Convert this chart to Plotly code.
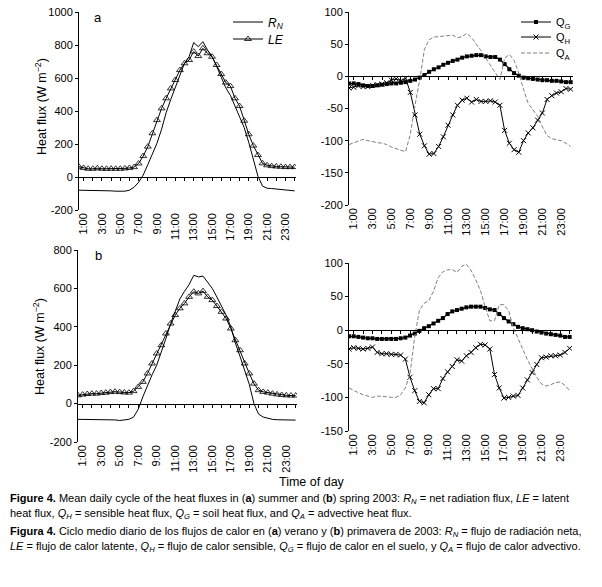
import plotly.graph_objects as go

# ---------------- data ----------------
HOURS = [h / 2 for h in range(1, 49)]  # 0:30 ... 24:00 (half-hourly)
TICK_HOURS = [1, 3, 5, 7, 9, 11, 13, 15, 17, 19, 21, 23]
TICK_LABELS = ["1:00", "3:00", "5:00", "7:00", "9:00", "11:00", "13:00",
               "15:00", "17:00", "19:00", "21:00", "23:00"]
MINOR_TICKS = list(range(1, 25))

# (a) summer
RN_A = [-80, -80, -80, -80, -80, -80, -81, -84, -86, -87, -86, -80,
        -62, -32, 12, 75, 140, 205, 290, 390, 470, 540, 615, 690,
        730, 815, 790, 820, 770, 730, 670, 610, 540, 495, 430, 360,
        300, 210, 110, 5, -55, -68, -70, -72, -75, -78, -82, -84]
LE_A = [62, 55, 50, 50, 53, 50, 50, 50, 50, 50, 52, 55,
        60, 82, 127, 184, 265, 345, 416, 477, 537, 588, 648, 689,
        709, 760, 733, 780, 750, 729, 679, 624, 572, 551, 477, 430,
        341, 259, 190, 133, 83, 71, 66, 64, 62, 60, 60, 60]
QG_A = [-11, -11, -12, -14, -15, -15, -14, -13, -12, -11, -11, -10,
        -9, -7, -5, -2, 2, 7, 11, 14, 18, 21, 24, 26,
        29, 31, 32, 33, 33, 31, 30, 30, 26, 19, 11, 5,
        1, -2, -3, -4, -5, -6, -6, -7, -7, -8, -9, -9]
QH_A = [-18, -17, -15, -16, -16, -14, -13, -12, -10, -6, -4, -7,
        -3, -25, -60, -90, -108, -121, -120, -109, -94, -76, -60, -45,
        -37, -34, -40, -36, -39, -39, -38, -40, -45, -84, -104, -114,
        -118, -100, -88, -80, -68, -57, -36, -30, -26, -24, -19, -20]
QA_A = [-106, -103, -100, -98, -100, -102, -103, -104, -106, -110, -113, -115,
        -117, -90, -45, -5, 42, 57, 61, 62, 62, 63, 64, 60,
        62, 67, 60, 50, 40, 28, 17, 8, -5, 28, 34, 25,
        5, -20, -42, -52, -62, -78, -92, -97, -98, -100, -104, -109]

# (b) spring
RN_B = [-82, -82, -82, -82, -82, -82, -82, -83, -85, -88, -86, -82,
        -70, -30, 35, 95, 150, 200, 265, 340, 417, 480, 545, 585,
        620, 668, 660, 664, 630, 600, 555, 505, 460, 400, 315, 245,
        175, 100, 0, -55, -70, -78, -82, -84, -85, -85, -86, -86]
LE_B = [43, 47, 50, 52, 52, 55, 57, 60, 62, 60, 58, 57,
        65, 87, 113, 157, 209, 261, 304, 365, 417, 461, 496, 522,
        556, 583, 574, 586, 556, 539, 508, 478, 443, 391, 330, 278,
        209, 157, 104, 70, 61, 57, 52, 48, 45, 43, 42, 42]
QG_B = [-9, -9, -10, -11, -12, -12, -13, -13, -13, -13, -13, -12,
        -11, -8, -5, -1, 3, 6, 10, 14, 18, 24, 28, 30,
        32, 34, 35, 35, 35, 33, 31, 30, 24, 18, 13, 9,
        5, 3, 1.5, 0, -2, -3.5, -5, -6, -7, -8, -10, -10]
QH_B = [-28, -26, -27, -28, -27, -25, -33, -35, -35, -36, -36, -37,
        -43, -70, -90, -106, -108, -96, -87, -87, -72, -62, -54, -44,
        -46, -38, -33, -26, -21, -22, -28, -66, -86, -101, -100, -98,
        -97, -86, -74, -63, -51, -41, -40, -38, -38, -37, -33, -27]
QA_B = [-86, -90, -93, -96, -98, -100, -98, -98, -99, -100, -100, -96,
        -86, -65, -10, 30, 40, 44, 58, 78, 87, 90, 90, 86,
        95, 98, 89, 75, 59, 35, 14, 14, 38, 38, 29, 4,
        -13, -28, -44, -58, -70, -80, -83, -81, -78, -77, -82, -90]

# ---------------- layout helpers ----------------
W, H = 602, 587
FONT = "Liberation Sans Narrow, Arial Narrow, Liberation Sans, Arial, sans-serif"


def fx(p):
    return p / W


def fy(p):
    return 1 - p / H


# pixel boxes: (left, right), (top, bottom), y range, y step, x range
PANELS = [
    dict(x=(79, 296), y=(12, 210), yr=(-200, 1000), dt=200, xr=(0.5, 24.15)),
    dict(x=(349, 573), y=(12, 205), yr=(-200, 100), dt=50, xr=(0.5, 24.25)),
    dict(x=(78, 297), y=(250, 442), yr=(-200, 800), dt=200, xr=(0.5, 24.15)),
    dict(x=(349, 572), y=(263, 431), yr=(-150, 100), dt=50, xr=(0.5, 24.25)),
]

fig = go.Figure()
layout = dict(
    template="none",
    width=W, height=H,
    margin=dict(l=0, r=0, t=0, b=0, pad=0),
    paper_bgcolor="white", plot_bgcolor="rgba(0,0,0,0)",
    font=dict(family=FONT, size=11, color="black"),
    showlegend=True,
)

for i, p in enumerate(PANELS, start=1):
    xd = [fx(p["x"][0]), fx(p["x"][1])]
    yd = [fy(p["y"][1]), fy(p["y"][0])]
    y0, y1 = p["yr"]
    vals = list(range(y0, y1 + 1, p["dt"]))
    sfx = "" if i == 1 else str(i)
    layout["xaxis" + sfx] = dict(
        domain=xd, range=list(p["xr"]), anchor="y" + sfx, automargin=False,
        tickvals=TICK_HOURS, ticktext=TICK_LABELS, tickangle=-90,
        showline=False, ticks="", showgrid=False, zeroline=False,
        tickfont=dict(size=11),
    )
    layout["yaxis" + sfx] = dict(
        domain=yd, range=[y0, y1], anchor="x" + sfx, automargin=False,
        tickvals=vals, ticktext=[str(v) for v in vals],
        showline=True, linecolor="black", linewidth=1,
        ticks="outside", ticklen=3, tickcolor="black", tickwidth=1,
        showgrid=False, zeroline=False, tickfont=dict(size=11),
    )
    # zero line with hourly tick marks
    zpos = yd[0] + (0 - y0) / (y1 - y0) * (yd[1] - yd[0])
    zname = str(i + 4)
    layout["xaxis" + zname] = dict(
        overlaying="x" + sfx, anchor="free", position=zpos, automargin=False,
        range=list(p["xr"]), showline=True, linecolor="black", linewidth=1,
        ticks="outside", ticklen=3, tickcolor="black", tickwidth=1,
        tickvals=MINOR_TICKS,
        showticklabels=False, showgrid=False, zeroline=False,
    )
    fig.add_trace(go.Scatter(x=[HOURS[0]], y=[None], xaxis="x" + zname,
                             yaxis="y" + sfx, showlegend=False,
                             hoverinfo="skip", mode="lines"))


def left_traces(rn, le, ax, show):
    fig.add_trace(go.Scatter(
        x=HOURS, y=rn, mode="lines", name="<i>R<sub>N</sub></i>",
        line=dict(color="black", width=1), xaxis="x" + ax, yaxis="y" + ax,
        showlegend=show, legend="legend"))
    fig.add_trace(go.Scatter(
        x=HOURS, y=le, mode="lines+markers", name="<i>LE</i>",
        line=dict(color="black", width=1),
        marker=dict(symbol="triangle-up-open", size=6, color="black",
                    line=dict(width=0.8, color="black")),
        xaxis="x" + ax, yaxis="y" + ax, showlegend=show, legend="legend2"))


def right_traces(qg, qh, qa, ax, show):
    fig.add_trace(go.Scatter(
        x=HOURS, y=qg, mode="lines+markers", name="Q<sub>G</sub>",
        line=dict(color="black", width=1.2),
        marker=dict(symbol="square", size=4, color="black"),
        xaxis="x" + ax, yaxis="y" + ax, showlegend=show, legend="legend3"))
    fig.add_trace(go.Scatter(
        x=HOURS, y=qh, mode="lines+markers", name="Q<sub>H</sub>",
        line=dict(color="black", width=1),
        marker=dict(symbol="x-thin-open", size=5, color="black",
                    line=dict(width=1, color="black")),
        xaxis="x" + ax, yaxis="y" + ax, showlegend=show, legend="legend4"))
    fig.add_trace(go.Scatter(
        x=HOURS, y=qa, mode="lines", name="Q<sub>A</sub>",
        line=dict(color="#808080", width=1, dash="4px,2px"),
        xaxis="x" + ax, yaxis="y" + ax, showlegend=show, legend="legend5"))


left_traces(RN_A, LE_A, "", True)
right_traces(QG_A, QH_A, QA_A, "2", True)
left_traces(RN_B, LE_B, "3", False)
right_traces(QG_B, QH_B, QA_B, "4", False)

LEGEND_POS = {"legend": (228, 22, 12), "legend2": (228, 39, 12),
              "legend3": (516, 22, 11), "legend4": (516, 37, 11),
              "legend5": (516, 53, 11)}
for key, (lx, ly, fs) in LEGEND_POS.items():
    layout[key] = dict(x=fx(lx), y=fy(ly), xanchor="left", yanchor="middle",
                       bgcolor="rgba(0,0,0,0)", font=dict(size=fs),
                       borderwidth=0, itemwidth=30)

ann = []


def text(x, y, s, size=11, anchor="left", angle=0):
    ann.append(dict(x=fx(x), y=fy(y), xref="paper", yref="paper", text=s,
                    showarrow=False, xanchor=anchor, yanchor="middle",
                    textangle=angle, font=dict(size=size, family=FONT,
                                               color="black")))


text(92, 17, "a", 13)
text(93, 255, "b", 13)
YT = "Heat flux (W m<sup>−2</sup>)"
text(41, 107, YT, 12.5, "center", -90)
text(39, 347, YT, 12.5, "center", -90)
text(312, 482, "Time of day", 12.5, "center")

CAPTION = [
    "<b>Figure 4.</b> Mean daily cycle of the heat fluxes in (<b>a</b>) summer and (<b>b</b>) spring 2003: "
    "<i>R<sub>N</sub></i> = net radiation flux, <i>LE</i> = latent",
    "heat flux, <i>Q<sub>H</sub></i> = sensible heat flux, <i>Q<sub>G</sub></i> = soil heat flux, "
    "and <i>Q<sub>A</sub></i> = advective heat flux.",
    "<b>Figura 4.</b> Ciclo medio diario de los flujos de calor en (<b>a</b>) verano y (<b>b</b>) primavera de 2003: "
    "<i>R<sub>N</sub></i> = flujo de radiación neta,",
    "<i>LE</i> = flujo de calor latente, <i>Q<sub>H</sub></i> = flujo de calor sensible, "
    "<i>Q<sub>G</sub></i> = flujo de calor en el suelo, y <i>Q<sub>A</sub></i> = flujo de calor advectivo.",
]
for yy, line in zip([499, 514, 532, 547], CAPTION):
    text(8, yy, line, 11)

layout["annotations"] = ann
fig.update_layout(**layout)
fig.write_html("out.html",
               config={"displayModeBar": False},
               post_script="document.body.style.margin='0';"
                           "document.body.style.padding='0';")
